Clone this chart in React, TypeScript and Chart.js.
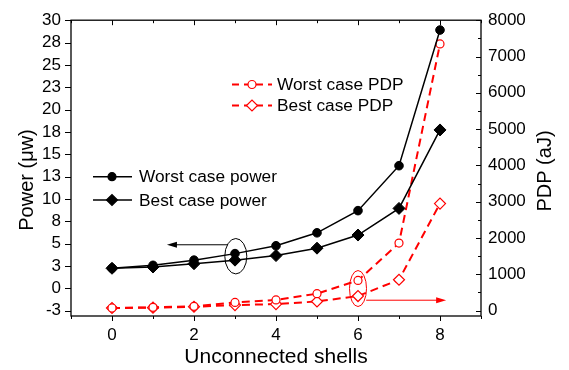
import { useEffect, useRef } from "react";
import { Chart, registerables } from "chart.js";

Chart.register(...registerables);

// ---- data ----
const shells = [0, 1, 2, 3, 4, 5, 6, 7, 8];
const worstPower = [2.24, 2.57, 3.15, 3.88, 4.76, 6.21, 8.69, 13.72, 28.9];
const bestPower = [2.24, 2.38, 2.75, 3.15, 3.66, 4.49, 5.96, 8.94, 17.72];
const worstPDP = [72, 91, 118, 225, 295, 466, 831, 1860, 7346];
const bestPDP = [72, 80, 107, 153, 180, 252, 402, 850, 2949];

const xTickValues = [0, 2, 4, 6, 8];
const xTickLabels = ["0", "2", "4", "6", "8"];
const xAllTicks = [-1, 0, 1, 2, 3, 4, 5, 6, 7, 8, 9];
const leftTickValues = [-2.5, 0, 2.5, 5, 7.5, 10, 12.5, 15, 17.5, 20, 22.5, 25, 27.5, 30];
const leftTickLabels = ["-3", "0", "3", "5", "8", "10", "13", "15", "18", "20", "23", "25", "28", "30"];
const rightTickValues = [0, 1000, 2000, 3000, 4000, 5000, 6000, 7000, 8000];
const rightTickLabels = ["0", "1000", "2000", "3000", "4000", "5000", "6000", "7000", "8000"];
const rightMinorTicks = [500, 1500, 2500, 3500, 4500, 5500, 6500, 7500];

const seriesLabels = ["Worst case power", "Best case power", "Worst case PDP", "Best case PDP"];

// annotation anchors (data units)
const powerEllipse = { x: 3, y: 3.59 };
const powerArrow = { y: 4.87, from: 2.83, to: 1.34 };
const pdpEllipse = { x: 6, y: 609 };
const pdpArrow = { y: 287, from: 6.2, to: 8.15 };

const FONT = "'Liberation Sans', Arial, sans-serif";
const RED = "#ff0000";

function drawMarker(ctx: CanvasRenderingContext2D, kind: string, x: number, y: number, color: string, filled: boolean) {
  ctx.save();
  ctx.setLineDash([]);
  ctx.beginPath();
  if (kind === "circle") {
    ctx.arc(x, y, filled ? 4 : 4, 0, Math.PI * 2);
  } else {
    const r = filled ? 5.5 : 5.5;
    ctx.moveTo(x - r, y);
    ctx.lineTo(x, y - r);
    ctx.lineTo(x + r, y);
    ctx.lineTo(x, y + r);
    ctx.closePath();
  }
  ctx.fillStyle = filled ? color : "#fff";
  ctx.fill();
  ctx.strokeStyle = color;
  ctx.lineWidth = 1.2;
  ctx.stroke();
  ctx.restore();
}

function arrow(ctx: CanvasRenderingContext2D, x1: number, x2: number, y: number, color: string) {
  ctx.save();
  ctx.strokeStyle = color;
  ctx.fillStyle = color;
  ctx.lineWidth = 1;
  ctx.setLineDash([]);
  const dir = Math.sign(x2 - x1);
  ctx.beginPath();
  ctx.moveTo(x1, y);
  ctx.lineTo(x2 - dir * 8, y);
  ctx.stroke();
  ctx.beginPath();
  ctx.moveTo(x2, y);
  ctx.lineTo(x2 - dir * 10, y - 3);
  ctx.lineTo(x2 - dir * 10, y + 3);
  ctx.closePath();
  ctx.fill();
  ctx.restore();
}

const decorPlugin = {
  id: "decor",
  afterDraw(chart: any) {
    const ctx: CanvasRenderingContext2D = chart.ctx;
    const { left, right, top, bottom } = chart.chartArea;
    const { x, y, y2 } = chart.scales;
    ctx.save();
    // frame
    ctx.strokeStyle = "#000";
    ctx.lineWidth = 1.3;
    ctx.strokeRect(left, top, right - left, bottom - top);
    ctx.lineWidth = 1;
    ctx.beginPath();
    for (const v of xAllTicks) {
      const px = Math.round(x.getPixelForValue(v)) + 0.5;
      const len = v % 2 === 0 ? 5 : 3;
      ctx.moveTo(px, bottom);
      ctx.lineTo(px, bottom + len);
      ctx.moveTo(px, top);
      ctx.lineTo(px, top + len);
    }
    for (const v of leftTickValues) {
      const py = Math.round(y.getPixelForValue(v)) + 0.5;
      ctx.moveTo(left - 6, py);
      ctx.lineTo(left, py);
    }
    for (const v of rightTickValues) {
      const py = Math.round(y2.getPixelForValue(v)) + 0.5;
      ctx.moveTo(right - 5, py);
      ctx.lineTo(right, py);
    }
    for (const v of rightMinorTicks) {
      const py = Math.round(y2.getPixelForValue(v)) + 0.5;
      ctx.moveTo(right - 3, py);
      ctx.lineTo(right, py);
    }
    ctx.stroke();

    // annotations
    ctx.strokeStyle = "#000";
    ctx.lineWidth = 1;
    ctx.beginPath();
    ctx.ellipse(x.getPixelForValue(powerEllipse.x) + 0.8, y.getPixelForValue(powerEllipse.y), 11, 17.7, 0, 0, Math.PI * 2);
    ctx.stroke();
    arrow(ctx, x.getPixelForValue(powerArrow.from), x.getPixelForValue(powerArrow.to), y.getPixelForValue(powerArrow.y), "#000");
    ctx.strokeStyle = RED;
    ctx.beginPath();
    ctx.ellipse(x.getPixelForValue(pdpEllipse.x), y2.getPixelForValue(pdpEllipse.y), 8.5, 18, 0, 0, Math.PI * 2);
    ctx.stroke();
    arrow(ctx, x.getPixelForValue(pdpArrow.from), x.getPixelForValue(pdpArrow.to), y2.getPixelForValue(pdpArrow.y), RED);

    // legends
    ctx.font = `17.3px ${FONT}`;
    ctx.textBaseline = "middle";
    ctx.textAlign = "left";
    const blackRows = [
      { label: seriesLabels[0], kind: "circle", y: 176.7 },
      { label: seriesLabels[1], kind: "diamond", y: 200 },
    ];
    for (const r of blackRows) {
      ctx.strokeStyle = "#000";
      ctx.lineWidth = 1.5;
      ctx.setLineDash([]);
      ctx.beginPath();
      ctx.moveTo(93, r.y);
      ctx.lineTo(132, r.y);
      ctx.stroke();
      drawMarker(ctx, r.kind, 112, r.y, "#000", true);
      ctx.fillStyle = "#000";
      ctx.fillText(r.label, 139, r.y + 1);
    }
    const redRows = [
      { label: seriesLabels[2], kind: "circle", y: 84.5 },
      { label: seriesLabels[3], kind: "diamond", y: 105.5 },
    ];
    for (const r of redRows) {
      ctx.strokeStyle = RED;
      ctx.lineWidth = 2;
      ctx.setLineDash([7, 5]);
      ctx.beginPath();
      ctx.moveTo(232, r.y);
      ctx.lineTo(272, r.y);
      ctx.stroke();
      ctx.setLineDash([]);
      drawMarker(ctx, r.kind, 252, r.y, RED, false);
      ctx.fillStyle = "#000";
      ctx.fillText(r.label, 277, r.y + 1);
    }

    // axis titles
    ctx.fillStyle = "#000";
    ctx.textAlign = "center";
    ctx.font = `21px ${FONT}`;
    ctx.fillText("Unconnected shells", (left + right) / 2, 357);
    ctx.font = `20px ${FONT}`;
    ctx.save();
    ctx.translate(27, 180);
    ctx.rotate(-Math.PI / 2);
    ctx.fillText("Power (\u03bcw)", 0, 0);
    ctx.restore();
    ctx.save();
    ctx.translate(545, 171);
    ctx.rotate(-Math.PI / 2);
    ctx.fillText("PDP (aJ)", 0, 0);
    ctx.restore();
    ctx.restore();
  },
};

export default function App() {
  const ref = useRef<HTMLCanvasElement | null>(null);
  useEffect(() => {
    document.body.style.margin = "0";
    const canvas = ref.current!;
    const tickFont = { family: FONT, size: 17 };
    const chart = new Chart(canvas, {
      type: "line",
      data: {
        labels: shells,
        datasets: [
          {
            label: seriesLabels[0],
            data: shells.map((s, i) => ({ x: s, y: worstPower[i] })),
            yAxisID: "y",
            borderColor: "#000",
            backgroundColor: "#000",
            borderWidth: 1.5,
            pointStyle: "circle",
            pointRadius: 4.3,
            pointBorderWidth: 1,
          },
          {
            label: seriesLabels[1],
            data: shells.map((s, i) => ({ x: s, y: bestPower[i] })),
            yAxisID: "y",
            borderColor: "#000",
            backgroundColor: "#000",
            borderWidth: 1.5,
            pointStyle: "rectRot",
            pointRadius: 6,
            pointBorderWidth: 1,
          },
          {
            label: seriesLabels[2],
            data: shells.map((s, i) => ({ x: s, y: worstPDP[i] })),
            yAxisID: "y2",
            borderColor: RED,
            backgroundColor: "#fff",
            borderWidth: 2,
            borderDash: [8, 5],
            pointStyle: "circle",
            pointRadius: 4,
            pointBorderWidth: 1.2,
            pointBorderColor: RED,
            pointBackgroundColor: "#fff",
          },
          {
            label: seriesLabels[3],
            data: shells.map((s, i) => ({ x: s, y: bestPDP[i] })),
            yAxisID: "y2",
            borderColor: RED,
            backgroundColor: "#fff",
            borderWidth: 2,
            borderDash: [8, 5],
            pointStyle: "rectRot",
            pointRadius: 5.5,
            pointBorderWidth: 1.2,
            pointBorderColor: RED,
            pointBackgroundColor: "#fff",
          },
        ],
      },
      options: {
        responsive: false,
        animation: false,
        layout: { padding: { top: 13, left: 0, right: 0, bottom: 0 } },
        plugins: { legend: { display: false }, tooltip: { enabled: false } },
        scales: {
          x: {
            type: "linear",
            position: "bottom",
            min: -1,
            max: 9,
            grid: { display: false, drawTicks: false, tickLength: 0 },
            border: { display: false },
            afterBuildTicks: (s: any) => {
              s.ticks = xTickValues.map((v) => ({ value: v }));
            },
            afterFit: (s: any) => {
              s.height = 54;
            },
            ticks: {
              color: "#000",
              font: tickFont,
              padding: 9,
              autoSkip: false,
              maxRotation: 0,
              callback: (_v: any, i: number) => xTickLabels[i],
            },
          },
          y: {
            type: "linear",
            position: "left",
            min: -3.1,
            max: 30,
            grid: { display: false, drawTicks: false, tickLength: 0 },
            border: { display: false },
            afterBuildTicks: (s: any) => {
              s.ticks = leftTickValues.map((v) => ({ value: v }));
            },
            afterFit: (s: any) => {
              s.width = 71;
            },
            ticks: {
              color: "#000",
              font: tickFont,
              padding: 10,
              autoSkip: false,
              callback: (_v: any, i: number) => leftTickLabels[i],
            },
          },
          y2: {
            type: "linear",
            position: "right",
            min: -148,
            max: 8000,
            grid: { display: false, drawTicks: false, tickLength: 0 },
            border: { display: false },
            afterBuildTicks: (s: any) => {
              s.ticks = rightTickValues.map((v) => ({ value: v }));
            },
            afterFit: (s: any) => {
              s.width = 88;
            },
            ticks: {
              color: "#000",
              font: tickFont,
              padding: 7,
              autoSkip: false,
              callback: (_v: any, i: number) => rightTickLabels[i],
            },
          },
        },
      },
      plugins: [decorPlugin],
    } as any);
    return () => chart.destroy();
  }, []);
  return (
    <div style={{ width: 569, height: 370 }}>
      <canvas ref={ref} width={569} height={370} style={{ display: "block" }} />
    </div>
  );
}
